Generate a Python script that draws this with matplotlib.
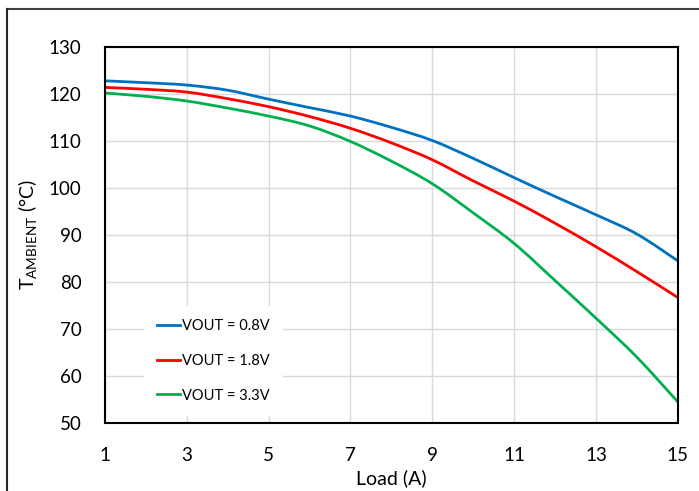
import matplotlib
matplotlib.use("Agg")
import numpy as np
import matplotlib.pyplot as plt
from matplotlib.lines import Line2D
from matplotlib.path import Path
from matplotlib.patches import PathPatch

plt.rcParams['font.family'] = ['Lato', 'DejaVu Sans']
plt.rcParams['mathtext.fontset'] = 'custom'
plt.rcParams['mathtext.rm'] = 'Lato'

# Derating data: ambient temperature limit vs. load current
load = [1, 2, 3, 4, 5, 6, 7, 8, 9, 10, 11, 12, 13, 14, 15]
t_08v = [122.8, 122.4, 121.9, 120.8, 118.9, 117.1, 115.3, 112.9, 110.1, 106.3, 102.2, 98.2, 94.3, 90.2, 84.5]
t_18v = [121.4, 121.0, 120.4, 119.0, 117.3, 115.2, 112.7, 109.6, 106.0, 101.5, 97.2, 92.5, 87.5, 82.2, 76.7]
t_33v = [120.2, 119.5, 118.5, 117.0, 115.3, 113.2, 109.9, 105.7, 100.9, 94.7, 88.2, 80.3, 72.3, 64.0, 54.5]

series = [
    ("VOUT = 0.8V", t_08v, "#0070C0"),
    ("VOUT = 1.8V", t_18v, "#FF0000"),
    ("VOUT = 3.3V", t_33v, "#00B050"),
]


def smooth_path(x, y):
    # Catmull-Rom style bezier through the points (spreadsheet "smoothed line")
    p = np.column_stack([x, y]).astype(float)
    n = len(p)
    verts = [p[0]]
    codes = [Path.MOVETO]
    for i in range(n - 1):
        p0 = p[i - 1] if i > 0 else p[i]
        p3 = p[i + 2] if i + 2 < n else p[i + 1]
        c1 = p[i] + (p[i + 1] - p0) / 6
        c2 = p[i + 1] - (p3 - p[i]) / 6
        verts += [c1, c2, p[i + 1]]
        codes += [Path.CURVE4] * 3
    return Path(verts, codes)


fig = plt.figure(figsize=(6.99, 4.91), dpi=100)
ax = fig.add_axes([0.1502, 0.1385, 0.8195, 0.7658])

handles = []
for label, vals, color in series:
    ax.add_patch(PathPatch(smooth_path(load, vals), fill=False, edgecolor=color,
                           lw=2.0, capstyle='butt'))
    handles.append(Line2D([], [], color=color, lw=2.0, label=label))

ax.set_xlim(1, 15)
ax.set_ylim(50, 130)
ax.set_xticks(range(1, 16, 2))
ax.set_yticks(range(50, 131, 10))
ax.grid(True, color='#D9D9D9', lw=1.0)
ax.set_axisbelow(True)
ax.tick_params(length=0, labelsize=13.5, colors='black')
ax.tick_params(axis='y', pad=17)
ax.tick_params(axis='x', pad=17)
for sp in ax.spines.values():
    sp.set_linewidth(1.5)
    sp.set_color('black')

ax.set_xlabel("Load (A)", fontsize=14, labelpad=4)
ax.set_ylabel(r"T$_{\mathrm{AMBIENT}}$ (°C)", fontsize=14, labelpad=6)

leg = ax.legend(handles=handles, loc='lower left', bbox_to_anchor=(0.055, 0.0),
                fontsize=10.5, frameon=True, fancybox=False, handlelength=1.6,
                handletextpad=0.15, labelspacing=1.42, borderpad=0.9)
leg.get_frame().set_edgecolor('none')
leg.get_frame().set_facecolor('white')
leg.get_frame().set_alpha(1.0)

# outer border (top and left edges only in view)
fig.add_artist(Line2D([7 / 699, 1], [1 - 9 / 491, 1 - 9 / 491], transform=fig.transFigure,
                      color='#404040', lw=1.5))
fig.add_artist(Line2D([7 / 699, 7 / 699], [0, 1 - 9 / 491], transform=fig.transFigure,
                      color='#262626', lw=1.5))

fig.savefig("out.png", dpi=100)
